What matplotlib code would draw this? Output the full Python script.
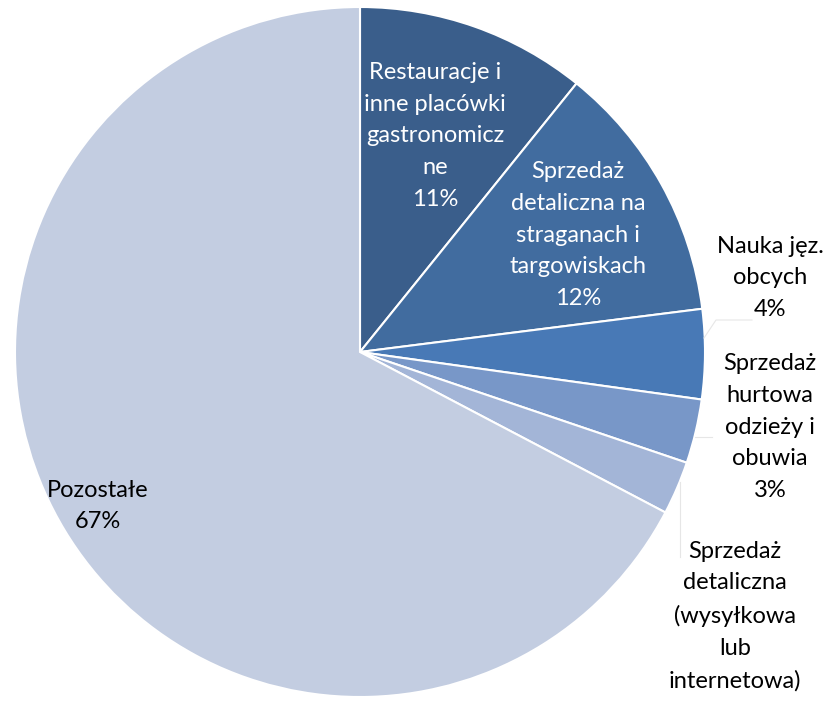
import matplotlib.pyplot as plt

# data
kategorie = [
    "Restauracje i\ninne placówki\ngastronomicz\nne",
    "Sprzedaż\ndetaliczna na\nstraganach i\ntargowiskach",
    "Nauka jęz.\nobcych",
    "Sprzedaż\nhurtowa\nodzieży i\nobuwia",
    "Sprzedaż\ndetaliczna\n(wysyłkowa\nlub\ninternetowa)",
    "Pozostałe",
]
udzialy = [10.8, 12.2, 4.2, 3.0, 2.5, 67.3]
procenty = ["11%", "12%", "4%", "3%", "", "67%"]

kolory = ["#3A5E8B", "#416C9F", "#4879B6", "#7897C8", "#A3B5D7", "#C3CDE1"]
kolory_tekstu = ["white", "white", "black", "black", "black", "black"]
# label centres in pixel coords (from top-left)
pozycje = [(435, 136), (578, 235), (770, 278), (770, 427), (735, 616), (98, 506)]

H = 703
plt.rcParams['font.family'] = ['Lato', 'DejaVu Sans']

fig = plt.figure(figsize=(8.3, 7.03), dpi=100)
ax = fig.add_axes([0, 0, 1, 1])

cx, cy, r = 360, H - 352, 345
ax.pie(udzialy, colors=kolory, startangle=90, counterclock=False,
       center=(cx, cy), radius=r, frame=True,
       wedgeprops=dict(edgecolor="white", linewidth=1.5))

# faint leader lines
ax.plot([704, 716, 752], [H - 338, H - 320, H - 320], color="#E6E6E6", lw=0.8)
ax.plot([695, 712], [H - 437, H - 437], color="#E6E6E6", lw=0.8)
ax.plot([680, 680], [H - 482, H - 557], color="#E6E6E6", lw=0.8)

for kat, pr, (x, y), kol in zip(kategorie, procenty, pozycje, kolory_tekstu):
    txt = kat + ("\n" + pr if pr else "")
    ax.text(x, H - y, txt, ha="center", va="center", fontsize=17,
            color=kol, linespacing=1.63, multialignment="center")

ax.set_xlim(0, 830)
ax.set_ylim(0, H)
ax.set_aspect("equal")
ax.axis("off")

fig.savefig("out.png", dpi=100)
